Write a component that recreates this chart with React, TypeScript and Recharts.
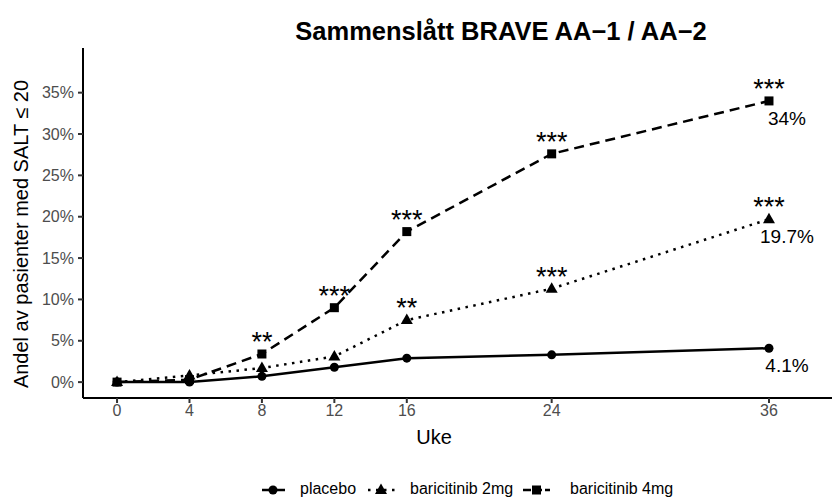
import { LineChart, Line, XAxis, YAxis, LabelList } from "recharts"

const weeks = [0, 4, 8, 12, 16, 24, 36]
const placebo = [0, 0, 0.7, 1.8, 2.9, 3.3, 4.1]
const bari2mg = [0, 0.8, 1.7, 3.1, 7.5, 11.3, 19.7]
const bari4mg = [0, 0.3, 3.4, 9.0, 18.2, 27.6, 34]
const stars2mg = ["", "", "", "", "**", "***", "***"]
const stars4mg = ["", "", "**", "***", "***", "***", "***"]
const endLabels = ["4.1%", "19.7%", "34%"]
const yTicks = [0, 5, 10, 15, 20, 25, 30, 35]

const last = weeks.length - 1
const data = weeks.map((w, i) => ({
  week: w,
  placebo: placebo[i],
  mg2: bari2mg[i],
  mg4: bari4mg[i],
  s2: stars2mg[i],
  s4: stars4mg[i],
  lp: i === last ? endLabels[0] : "",
  l2: i === last ? endLabels[1] : "",
  l4: i === last ? endLabels[2] : "",
}))

const FONT = "'Liberation Sans', Arial, sans-serif"

const Circle = (p: any) => <circle cx={p.cx} cy={p.cy} r={4.5} fill="#000" />
const Triangle = (p: any) => (
  <polygon
    points={`${p.cx},${p.cy - 6.5} ${p.cx - 6},${p.cy + 4} ${p.cx + 6},${p.cy + 4}`}
    fill="#000"
  />
)
const Square = (p: any) => <rect x={p.cx - 4.5} y={p.cy - 4.5} width={9} height={9} fill="#000" />

const Stars = (p: any) =>
  p.value ? (
    <text x={p.x} y={p.y - 3} textAnchor="middle" fontSize={27} fontFamily={FONT} fill="#000">
      {p.value}
    </text>
  ) : null

const EndLabel = (p: any) =>
  p.value ? (
    <text x={p.x + 18} y={p.y + 24} textAnchor="middle" fontSize={19} fontFamily={FONT} fill="#000">
      {p.value}
    </text>
  ) : null

const LegendBox = () => (
  <svg width={833} height={502} style={{ position: "absolute", left: 0, top: 0, pointerEvents: "none" }}>
    <g fontFamily={FONT} fontSize={16} fill="#000">
      <line x1={262} x2={285} y1={490} y2={490} stroke="#000" strokeWidth={2.5} />
      <circle cx={273} cy={490} r={4.5} fill="#000" />
      <text x={300} y={494}>placebo</text>
      <line x1={368} x2={396} y1={490} y2={490} stroke="#000" strokeWidth={2.5} strokeDasharray="2.5 5.5" />
      <polygon points="381,483.5 375,494 387,494" fill="#000" />
      <text x={410} y={494}>baricitinib 2mg</text>
      <line x1={523} x2={550} y1={490} y2={490} stroke="#000" strokeWidth={2.5} strokeDasharray="8 3" />
      <rect x={532} y={485.5} width={9} height={9} fill="#000" />
      <text x={570} y={494}>baricitinib 4mg</text>
    </g>
  </svg>
)

export default function App() {
  return (
    <div style={{ position: "absolute", left: 0, top: 0, width: 833, height: 502, background: "#fff" }}>
      <LineChart width={833} height={502} data={data} margin={{ top: 48, right: 1, bottom: 64, left: 0 }}>
        <text x={501} y={40} textAnchor="middle" fontSize={25.5} fontWeight="bold" fontFamily={FONT} fill="#000">
          Sammenslått BRAVE AA−1 / AA−2
        </text>
        <text
          x={28}
          y={234}
          transform="rotate(-90 28 234)"
          textAnchor="middle"
          fontSize={20}
          fontFamily={FONT}
          fill="#000"
        >
          Andel av pasienter med SALT ≤ 20
        </text>
        <text x={434} y={444} textAnchor="middle" fontSize={20} fontFamily={FONT} fill="#000">
          Uke
        </text>
        <XAxis
          dataKey="week"
          type="number"
          domain={[-1.88, 39.48]}
          ticks={weeks}
          allowDataOverflow
          height={40}
          axisLine={{ stroke: "#000", strokeWidth: 2 }}
          tickLine={{ stroke: "#333", strokeWidth: 2 }}
          tickSize={5}
          tick={{ fill: "#4d4d4d", fontSize: 16, fontFamily: FONT }}
        />
        <YAxis
          type="number"
          domain={[-1.92, 40.4]}
          ticks={yTicks}
          allowDataOverflow
          width={83}
          axisLine={{ stroke: "#000", strokeWidth: 2 }}
          tickLine={{ stroke: "#333", strokeWidth: 2 }}
          tickSize={5}
          tickMargin={4}
          tickFormatter={(v: number) => `${v}%`}
          tick={{ fill: "#4d4d4d", fontSize: 16, fontFamily: FONT }}
        />
        <Line
          dataKey="placebo"
          stroke="#000"
          strokeWidth={2.5}
          dot={<Circle />}
          activeDot={false}
          isAnimationActive={false}
        >
          <LabelList dataKey="lp" content={<EndLabel />} />
        </Line>
        <Line
          dataKey="mg2"
          stroke="#000"
          strokeWidth={2.5}
          strokeDasharray="2.5 5.5"
          dot={<Triangle />}
          activeDot={false}
          isAnimationActive={false}
        >
          <LabelList dataKey="s2" content={<Stars />} />
          <LabelList dataKey="l2" content={<EndLabel />} />
        </Line>
        <Line
          dataKey="mg4"
          stroke="#000"
          strokeWidth={2.5}
          strokeDasharray="10 6"
          dot={<Square />}
          activeDot={false}
          isAnimationActive={false}
        >
          <LabelList dataKey="s4" content={<Stars />} />
          <LabelList dataKey="l4" content={<EndLabel />} />
        </Line>
      </LineChart>
      <LegendBox />
    </div>
  )
}
